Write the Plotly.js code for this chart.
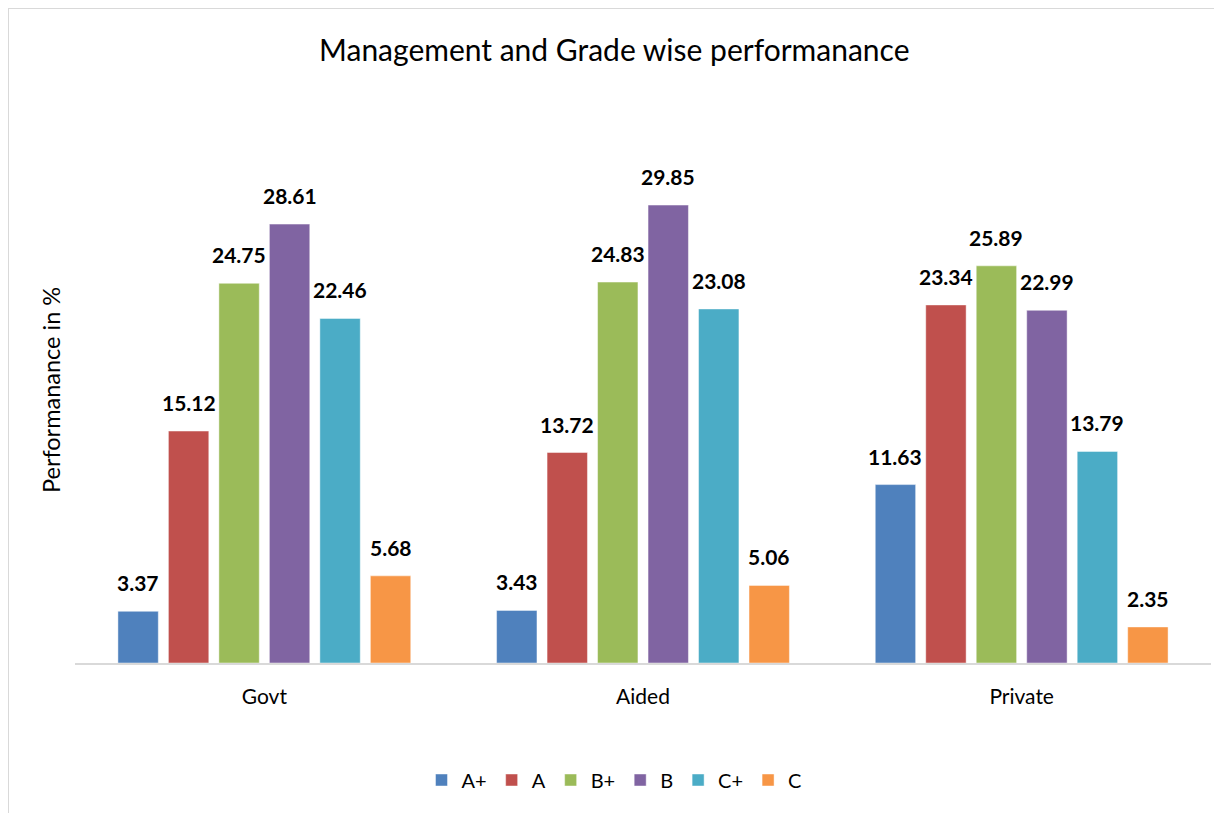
<!DOCTYPE html>
<html>
<head>
<meta charset="utf-8">
<script src="https://cdn.plot.ly/plotly-3.0.1.min.js"></script>
<style>
  html, body { margin: 0; padding: 0; background: #ffffff; }
  #wrap { position: relative; width: 1214px; height: 813px; overflow: hidden; }
  #chart { position: absolute; left: 0; top: 0; width: 1214px; height: 813px; }
  #frame { position: absolute; left: 8px; top: 8px; width: 1300px; height: 900px;
           border-left: 1.5px solid #d9d9d9; border-top: 1.5px solid #d9d9d9; pointer-events: none; }
</style>
</head>
<body>
<div id="wrap">
  <div id="chart"></div>
  <div id="frame"></div>
</div>
<script>
const categories = ["Govt", "Aided", "Private"];
const grades = ["A+", "A", "B+", "B", "C+", "C"];
const valuesAPlus = [3.37, 3.43, 11.63];
const valuesA     = [15.12, 13.72, 23.34];
const valuesBPlus = [24.75, 24.83, 25.89];
const valuesB     = [28.61, 29.85, 22.99];
const valuesCPlus = [22.46, 23.08, 13.79];
const valuesC     = [5.68, 5.06, 2.35];
const colors = ["#4f81bd", "#c0504d", "#9bbb59", "#8064a2", "#4bacc6", "#f79646"];
const chartTitle = "Management and Grade wise performanance";
const yTitle = "Performanance in %";

const seriesValues = [valuesAPlus, valuesA, valuesBPlus, valuesB, valuesCPlus, valuesC];
const FONT = "Lato, Carlito, 'Open Sans', sans-serif";
const bargap = 0.2;
const bargroupgap = 0.2;

const W = 1214, H = 813;
const M = { l: 75, r: 3, t: 100, b: 150 };

const traces = grades.map((g, i) => ({
  type: "bar",
  name: g,
  x: categories,
  y: seriesValues[i],
  marker: { color: colors[i], line: { color: "rgba(255,255,255,0.45)", width: 1 } },
  hoverinfo: "x+y+name"
}));

// data labels placed through the axis scales (category index + group slot offset)
const nSeries = grades.length;
const slot = (1 - bargap) / nSeries;
const annotations = [];
seriesValues.forEach((vals, i) => {
  vals.forEach((v, j) => {
    annotations.push({
      x: j + (i - (nSeries - 1) / 2) * slot,
      y: v,
      xref: "x", yref: "y",
      text: "<b>" + v.toFixed(2) + "</b>",
      showarrow: false,
      yanchor: "bottom",
      yshift: 14,
      font: { family: FONT, size: 21, color: "#000000" }
    });
  });
});
// y-axis title (paper coordinates)
const plotW = W - M.l - M.r, plotH = H - M.t - M.b;
annotations.push({
  text: yTitle,
  xref: "paper", yref: "paper",
  x: (51 - M.l) / plotW, y: (H - M.b - 390) / plotH,
  xanchor: "center", yanchor: "middle",
  textangle: -90,
  showarrow: false,
  font: { family: FONT, size: 23.5, color: "#000000" }
});

const layout = {
  width: W,
  height: H,
  margin: M,
  paper_bgcolor: "#ffffff",
  plot_bgcolor: "#ffffff",
  font: { family: FONT, color: "#000000" },
  title: {
    text: chartTitle,
    font: { family: FONT, size: 30, color: "#000000" },
    xref: "container", yref: "container",
    x: 0.506, xanchor: "center",
    y: 1 - 50 / H, yanchor: "middle"
  },
  barmode: "group",
  bargap: bargap,
  bargroupgap: bargroupgap,
  xaxis: {
    type: "category",
    showline: true,
    linecolor: "#d9d9d9",
    linewidth: 1.5,
    ticks: "",
    tickfont: { family: FONT, size: 21, color: "#000000" },
    ticklabelstandoff: 14,
    showgrid: false,
    zeroline: false
  },
  yaxis: {
    range: [0, 36.7],
    showgrid: false,
    zeroline: false,
    showticklabels: false,
    ticks: "",
    showline: false
  },
  showlegend: true,
  legend: {
    orientation: "h",
    xref: "container", yref: "container",
    x: 614 / W, xanchor: "center",
    y: 1 - 780 / H, yanchor: "middle",
    font: { family: FONT, size: 20, color: "#000000" },
    itemwidth: 30,
    traceorder: "normal"
  },
  annotations: annotations
};

Plotly.newPlot("chart", traces, layout, { displayModeBar: false, staticPlot: true });
</script>
</body>
</html>
